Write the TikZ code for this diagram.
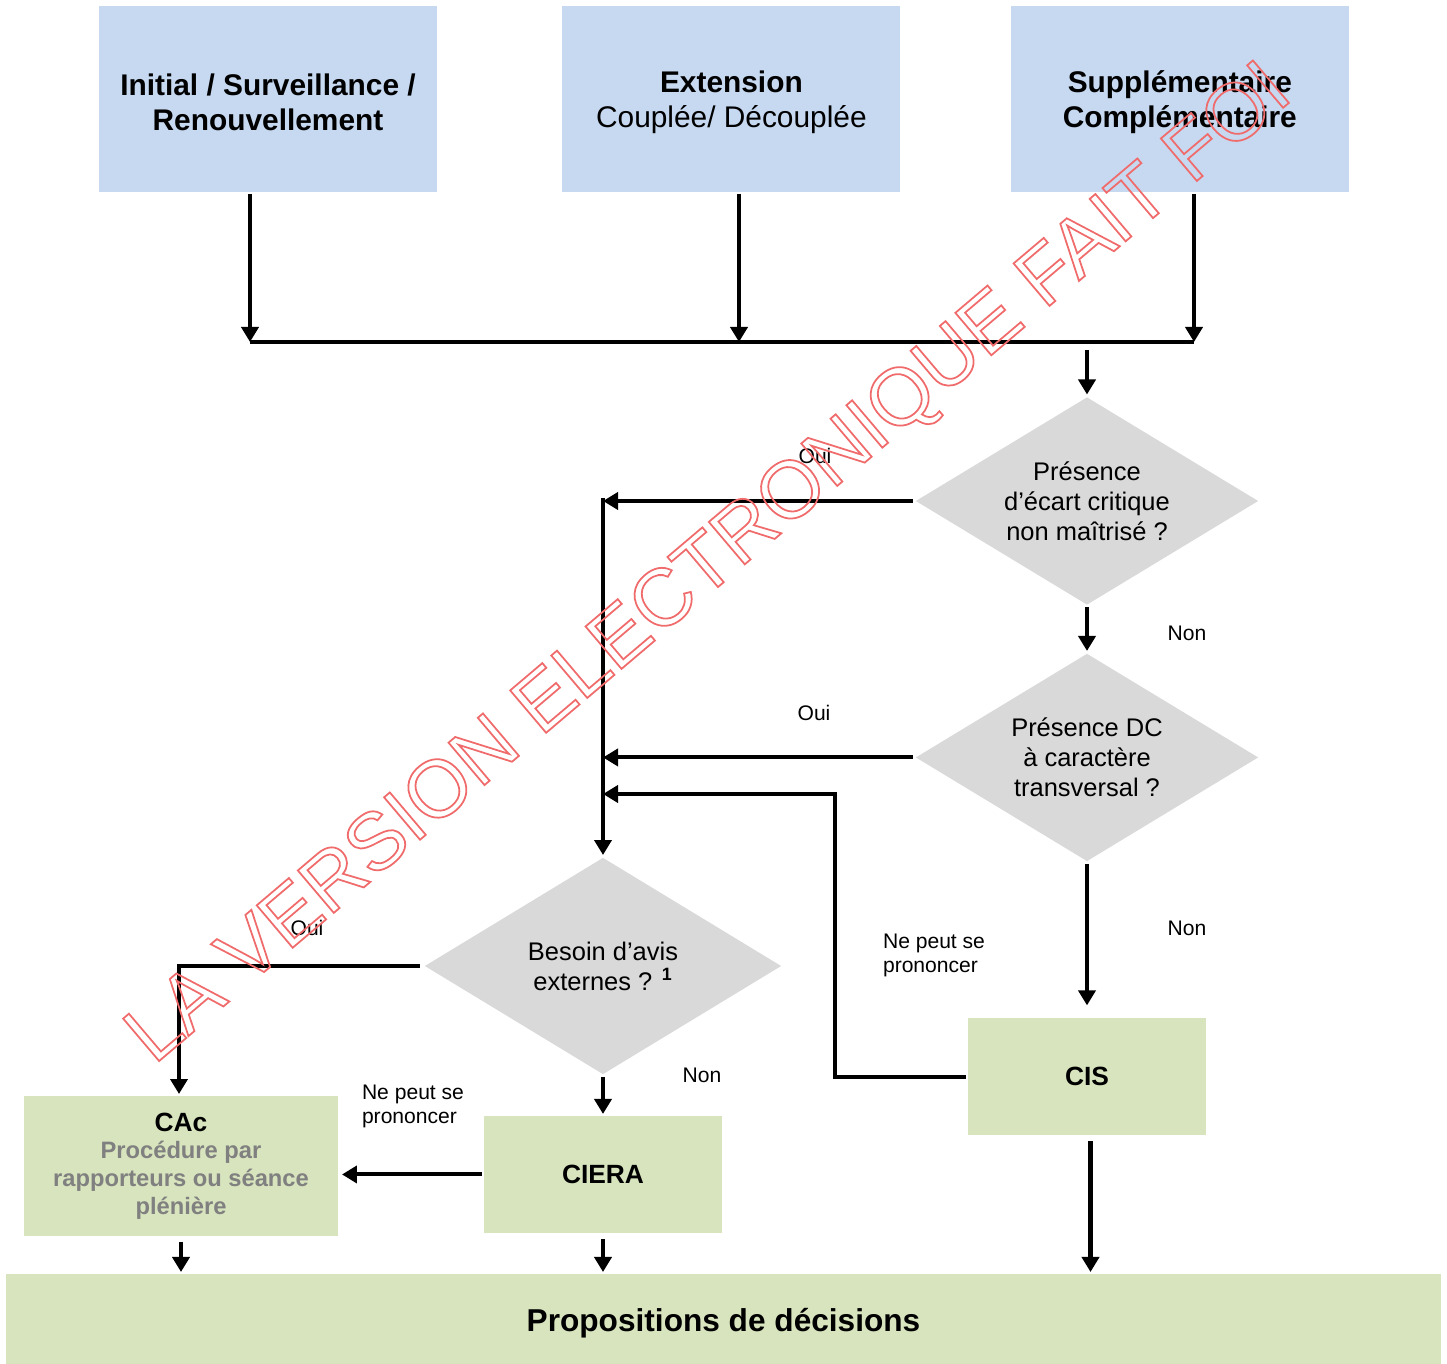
\documentclass[tikz,border=0pt]{standalone}
\usepackage{xcolor}
\usepackage{fontspec}
\setmainfont{Liberation Sans}
\usepackage{tikz}
\usetikzlibrary{arrows.meta,shapes.geometric}
\usetikzlibrary{positioning}
\definecolor{phaseblue}{RGB}{198,217,241}
\definecolor{instgreen}{RGB}{215,228,189}
\definecolor{questgray}{RGB}{217,217,217}
\definecolor{notegray}{RGB}{128,128,128}
\newcommand{\hollowtext}[1]{\special{pdf:literal q 1 Tr 1 w 0.94 0.42 0.42 RG}#1\special{pdf:literal Q}}
\tikzset{
    phase/.style={
      rectangle,
      fill=phaseblue,
      minimum width=6.76cm,
      minimum height=3.72cm,
      inner sep=2pt,
      text centered,
      align=center,
      font=\fontsize{17}{20}\selectfont,
    },
    question/.style={
      diamond,
      fill=questgray,
      shape aspect=1.65,
      minimum width=6.88cm,
      minimum height=4.18cm,
      inner sep=0pt,
      align=center,
      font=\fontsize{14.5}{17}\selectfont,
    },
    instance/.style={
      rectangle,
      fill=instgreen,
      minimum width=4.78cm,
      minimum height=2.34cm,
      inner sep=2pt,
      align=center,
      font=\fontsize{15}{17}\selectfont\bfseries,
    },
    answer/.style={
      font=\fontsize{12}{13.6}\selectfont,
      inner sep=0pt,
    },
}

\begin{document}
\begin{tikzpicture}[x=0.02cm,y=-0.02cm,->,>={Triangle[width=3.4mm,length=3mm]},line width=2.3pt]

    \useasboundingbox (0,0) rectangle (1447,1364);

    \node[phase] (INIT) at (268,99)
    {
      \rule{0pt}{16pt}\textbf{Initial / Surveillance /}\\
      \textbf{Renouvellement}
    };

    \node[phase,
    right of=INIT,
    node distance=9.27cm] (EXT)
    {
      \rule{0pt}{16pt}\textbf{Extension}\\
      Coupl\'ee/ D\'ecoupl\'ee
    };

    \node[phase,
    right of=EXT,
    node distance=8.97cm] (SUPP)
    {
      \rule{0pt}{16pt}\textbf{Suppl\'ementaire}\\
      \textbf{Compl\'ementaire}
    };

    \node[question] (ECART) at (1087,501)
    {
      Pr\'esence\\
      d’\'ecart critique\\
      non ma\^itris\'e ?
    };

    \node[question,
    below of=ECART,
    node distance=5.13cm] (DC)
    {
      Pr\'esence DC\\
      \`a caract\`ere\\
      transversal ?
    };

    \node[instance,
    below of=DC,
    node distance=6.39cm] (CIS) {CIS};

    \node[question,
    minimum width=7.16cm,
    minimum height=4.36cm] (BESOIN) at (603,966)
    {
      Besoin d’avis\\
      externes ? \textsuperscript{\bfseries 1}
    };

    \node[instance,
    below of=BESOIN,
    node distance=4.17cm] (CIERA) {CIERA};

    \node[instance,
    minimum width=6.28cm,
    minimum height=2.8cm,
    font=\fontsize{13.5}{15.8}\selectfont\bfseries] (CAC) at (181,1166)
    {
      {\fontsize{15}{15.8}\selectfont CAc}\\
      \textcolor{notegray}{Proc\'edure par}\\
      \textcolor{notegray}{rapporteurs ou s\'eance}\\
      \textcolor{notegray}{pl\'eni\`ere}
    };

    \node[rectangle, fill=instgreen,
    minimum width=28.7cm, minimum height=1.96cm,
    font=\fontsize{18}{20}\selectfont\bfseries] (PROP) at (723.5,1323)
    {Propositions de d\'ecisions};

    \coordinate (J1) at (250,342);
    \coordinate (J2) at (739,342);
    \coordinate (J3) at (1194,342);
    \coordinate (BACK) at (835,794);

    \node[answer] (OUI1) at (815,456) {Oui};
    \node[answer] (OUI2) at (814,713) {Oui};
    \node[answer] (OUI3) at (307,928) {Oui};
    \node[answer] (NON1) at (1187,633) {Non};
    \node[answer] (NON2) at (1187,928) {Non};
    \node[answer] (NON3) at (702,1075) {Non};
    \node[answer, anchor=west, align=left] (NP1) at (881,955)
    {Ne peut se\\prononcer};
    \node[answer, anchor=west, align=left] (NP2) at (360,1106)
    {Ne peut se\\prononcer};

    \path
    (J1 |- INIT.south) edge (J1)
    (J2 |- EXT.south) edge (J2)
    (J3 |- SUPP.south) edge (J3)
    (J1) edge[-] (J3)

    ([yshift=-0.16cm]ECART.north |- J3) edge (ECART.north)

    (ECART.west) edge (BESOIN.north |- ECART.west)
    ([yshift=0.05cm]BESOIN.north |- ECART.west) edge (BESOIN.north)

    (ECART.south) edge (DC.north)

    (DC.west) edge (BESOIN.north |- DC.west)

    (DC.south) edge[shorten >=0.22cm] (CIS.north)

    (BESOIN.south) edge (CIERA.north)

    (CIERA.west) edge[shorten >=0.04cm] (CAC.east |- CIERA.west)

    (CAC.south) edge[shorten <=0.08cm] (CAC.south |- PROP.north)
    (CIERA.south) edge[shorten <=0.08cm] (CIERA.south |- PROP.north)
    ([xshift=0.07cm]CIS.south) edge[shorten <=0.08cm] ([xshift=0.07cm]CIS.south |- PROP.north);

    \draw (CIS.west) -| (BACK) -- (BESOIN.north |- BACK);

    \draw ([xshift=-0.05cm]BESOIN.west) -| ([xshift=-0.04cm]CAC.north);

    \node[rotate=40.3, inner sep=0pt,
    font=\fontsize{46}{46}\selectfont] (STAMP) at (711,566)
    {\hollowtext{LA VERSION ELECTRONIQUE FAIT FOI}};

\end{tikzpicture}
\end{document}
